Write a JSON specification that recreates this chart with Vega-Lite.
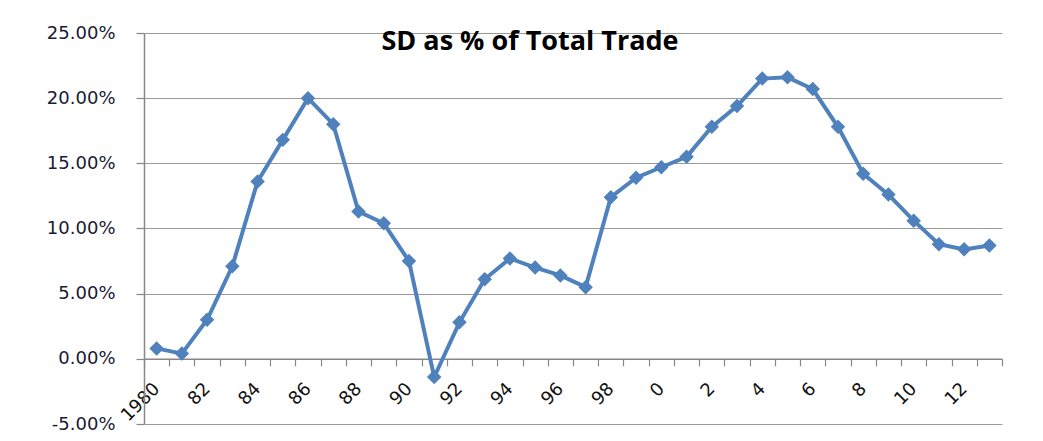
{
  "$schema": "https://vega.github.io/schema/vega-lite/v6.json",
  "width": 858,
  "height": 391,
  "autosize": {"type": "none"},
  "padding": {"left": 144, "top": 33, "right": 41, "bottom": 17},
  "background": "white",
  "config": {"view": {"stroke": null}},
  "title": {
    "text": "SD as % of Total Trade",
    "font": "Open Sans",
    "fontSize": 27,
    "fontWeight": "bold",
    "color": "#000000",
    "anchor": "middle",
    "frame": "group",
    "dx": -43,
    "baseline": "alphabetic",
    "offset": -53
  },
  "data": {
    "values": [
      {"year": 1980, "value": 0.008},
      {"year": 1981, "value": 0.004},
      {"year": 1982, "value": 0.030},
      {"year": 1983, "value": 0.071},
      {"year": 1984, "value": 0.136},
      {"year": 1985, "value": 0.168},
      {"year": 1986, "value": 0.200},
      {"year": 1987, "value": 0.180},
      {"year": 1988, "value": 0.113},
      {"year": 1989, "value": 0.104},
      {"year": 1990, "value": 0.075},
      {"year": 1991, "value": -0.014},
      {"year": 1992, "value": 0.028},
      {"year": 1993, "value": 0.061},
      {"year": 1994, "value": 0.077},
      {"year": 1995, "value": 0.070},
      {"year": 1996, "value": 0.064},
      {"year": 1997, "value": 0.055},
      {"year": 1998, "value": 0.124},
      {"year": 1999, "value": 0.139},
      {"year": 2000, "value": 0.147},
      {"year": 2001, "value": 0.155},
      {"year": 2002, "value": 0.178},
      {"year": 2003, "value": 0.194},
      {"year": 2004, "value": 0.215},
      {"year": 2005, "value": 0.216},
      {"year": 2006, "value": 0.207},
      {"year": 2007, "value": 0.178},
      {"year": 2008, "value": 0.142},
      {"year": 2009, "value": 0.126},
      {"year": 2010, "value": 0.106},
      {"year": 2011, "value": 0.088},
      {"year": 2012, "value": 0.084},
      {"year": 2013, "value": 0.087}
    ]
  },
  "mark": {
    "type": "line",
    "color": "#4F81BD",
    "strokeWidth": 4,
    "point": {"shape": "diamond", "size": 210, "color": "#4F81BD", "filled": true, "opacity": 1}
  },
  "encoding": {
    "x": {
      "field": "year",
      "type": "quantitative",
      "scale": {"domain": [1979.5, 2013.5], "nice": false, "zero": false},
      "axis": {
        "title": null,
        "grid": false,
        "offset": -65.17,
        "values": [1979.5,1980.5,1981.5,1982.5,1983.5,1984.5,1985.5,1986.5,1987.5,1988.5,1989.5,1990.5,1991.5,1992.5,1993.5,1994.5,1995.5,1996.5,1997.5,1998.5,1999.5,2000.5,2001.5,2002.5,2003.5,2004.5,2005.5,2006.5,2007.5,2008.5,2009.5,2010.5,2011.5,2012.5,2013.5],
        "labelExpr": "(datum.value + 0.5 > 2013 || (datum.value + 0.5) % 2 != 0) ? '' : ((datum.value + 0.5) == 1980 ? '1980' : '' + ((datum.value + 0.5) % 100))",
        "labelOffset": 12.6,
        "labelAngle": -45,
        "labelAlign": "right",
        "labelBaseline": "middle",
        "labelPadding": 20,
        "labelFont": "DejaVu Sans",
        "labelFontSize": 18,
        "labelColor": "#111111",
        "labelOverlap": false,
        "labelFlush": false,
        "domainColor": "#888888",
        "domainWidth": 1.5,
        "tickColor": "#888888",
        "tickSize": 7,
        "tickWidth": 1.2
      }
    },
    "y": {
      "field": "value",
      "type": "quantitative",
      "scale": {"domain": [-0.05, 0.25], "nice": false, "zero": false},
      "axis": {
        "title": null,
        "values": [-0.05, 0, 0.05, 0.1, 0.15, 0.2, 0.25],
        "labelExpr": "replace(format(datum.value, '.2%'), '\u2212', '-')",
        "labelFont": "DejaVu Sans",
        "labelFontSize": 18,
        "labelColor": "#1a1a33",
        "labelPadding": 21,
        "grid": true,
        "gridColor": "#999999",
        "gridWidth": 1.2,
        "domainColor": "#888888",
        "domainWidth": 1.5,
        "tickColor": "#888888",
        "tickSize": 8,
        "tickWidth": 1.2
      }
    }
  }
}
